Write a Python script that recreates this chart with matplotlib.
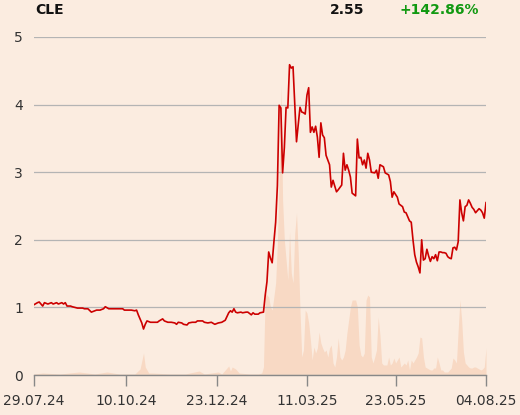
import matplotlib
matplotlib.use("Agg")
import matplotlib.pyplot as plt

# ---- data (trading-day index) ----
price_day = [0, 2, 3, 5, 6, 8, 10, 11, 13, 14, 16, 17, 18, 19, 21, 22, 25, 26, 28, 29, 31, 33, 35, 36, 38, 40, 41, 43, 45, 47, 48, 51, 52, 54, 56, 58, 59, 60, 62, 63, 64, 65, 67, 68, 71, 72, 74, 75, 77, 79, 81, 82, 83, 85, 86, 88, 89, 91, 93, 94, 97, 98, 100, 102, 104, 106, 108, 110, 112, 113, 114, 115, 116, 117, 119, 120, 122, 123, 125, 126, 127, 129, 130, 132, 133, 134, 135, 136, 137, 138, 139, 140, 141, 142, 143, 144, 145, 146, 147, 148, 149, 151, 152, 153, 154, 155, 156, 157, 158, 159, 160, 161, 162, 163, 164, 165, 166, 167, 168, 170, 171, 172, 174, 175, 177, 178, 179, 180, 181, 182, 183, 185, 186, 187, 188, 189, 190, 191, 192, 193, 194, 196, 197, 198, 199, 201, 202, 204, 205, 206, 207, 209, 210, 212, 213, 214, 215, 216, 217, 218, 219, 220, 221, 222, 223, 224, 225, 226, 227, 228, 229, 230, 231, 232, 233, 234, 235, 236, 237, 238, 239, 240, 241, 242, 243, 244, 245, 246, 247, 248, 249, 250, 251, 252, 253, 254, 255, 256, 257, 258, 259, 260]
price = [1.04, 1.07, 1.08, 1.02, 1.07, 1.05, 1.07, 1.05, 1.07, 1.05, 1.07, 1.05, 1.07, 1.02, 1.02, 1.01, 0.99, 0.99, 0.99, 0.98, 0.98, 0.93, 0.95, 0.96, 0.96, 0.98, 1.01, 0.98, 0.98, 0.98, 0.98, 0.98, 0.96, 0.96, 0.96, 0.95, 0.96, 0.89, 0.77, 0.68, 0.75, 0.80, 0.78, 0.78, 0.78, 0.80, 0.83, 0.80, 0.78, 0.78, 0.77, 0.75, 0.78, 0.77, 0.75, 0.74, 0.77, 0.78, 0.78, 0.80, 0.80, 0.78, 0.77, 0.78, 0.75, 0.77, 0.78, 0.81, 0.92, 0.95, 0.93, 0.98, 0.93, 0.92, 0.93, 0.92, 0.93, 0.93, 0.89, 0.92, 0.90, 0.90, 0.92, 0.93, 1.18, 1.38, 1.82, 1.73, 1.66, 1.97, 2.26, 2.80, 3.99, 3.95, 2.99, 3.36, 3.96, 3.95, 4.59, 4.54, 4.56, 3.45, 3.70, 3.96, 3.89, 3.88, 3.86, 4.14, 4.25, 3.59, 3.67, 3.59, 3.68, 3.52, 3.22, 3.73, 3.55, 3.51, 3.25, 3.11, 2.78, 2.88, 2.71, 2.74, 2.81, 3.28, 3.03, 3.11, 3.03, 2.93, 2.69, 2.65, 3.49, 3.21, 3.22, 3.11, 3.18, 3.06, 3.28, 3.18, 3.00, 2.99, 3.03, 2.91, 3.11, 3.08, 2.99, 2.96, 2.86, 2.63, 2.71, 2.63, 2.53, 2.49, 2.41, 2.40, 2.34, 2.28, 2.26, 2.00, 1.78, 1.67, 1.60, 1.51, 2.00, 1.70, 1.72, 1.86, 1.76, 1.68, 1.75, 1.72, 1.78, 1.69, 1.82, 1.82, 1.81, 1.81, 1.80, 1.75, 1.73, 1.72, 1.88, 1.89, 1.85, 1.97, 2.59, 2.40, 2.28, 2.49, 2.51, 2.59, 2.54, 2.48, 2.45, 2.40, 2.43, 2.46, 2.44, 2.40, 2.32, 2.55]

vol_day = [0, 5, 15, 26, 35, 42, 49, 58, 61, 63, 64, 66, 68, 78, 87, 95, 98, 106, 108, 110, 112, 113, 114, 116, 118, 124, 129, 131, 132, 133, 135, 136, 137, 139, 140, 141, 142, 143, 144, 145, 146, 147, 148, 149, 150, 151, 152, 153, 154, 155, 156, 157, 158, 159, 160, 161, 162, 163, 164, 165, 166, 167, 168, 169, 170, 171, 172, 173, 174, 175, 176, 177, 178, 179, 180, 181, 182, 183, 184, 185, 186, 187, 188, 189, 190, 191, 192, 193, 194, 195, 196, 197, 198, 199, 200, 201, 202, 203, 204, 205, 206, 207, 208, 209, 210, 211, 212, 213, 214, 215, 216, 217, 218, 219, 220, 221, 222, 223, 224, 225, 226, 227, 228, 229, 230, 231, 232, 233, 234, 235, 236, 237, 238, 239, 240, 241, 242, 243, 244, 245, 246, 247, 248, 249, 250, 251, 252, 253, 254, 255, 256, 257, 258, 259, 260]
volume = [1, 2, 1, 3, 1, 3, 1, 1, 6, 22, 8, 2, 2, 1, 1, 4, 1, 3, 1, 5, 9, 4, 8, 6, 2, 1, 1, 2, 8, 82, 78, 68, 65, 92, 132, 200, 290, 175, 135, 115, 95, 143, 102, 92, 142, 162, 122, 65, 18, 25, 65, 62, 52, 35, 15, 28, 22, 27, 43, 32, 27, 23, 25, 18, 27, 30, 12, 8, 18, 37, 18, 15, 18, 25, 42, 55, 68, 75, 75, 75, 68, 30, 20, 18, 22, 75, 80, 78, 18, 12, 18, 25, 58, 40, 12, 10, 10, 10, 18, 10, 12, 17, 12, 15, 18, 8, 10, 12, 10, 15, 5, 15, 12, 15, 18, 22, 38, 37, 18, 8, 7, 6, 5, 5, 7, 7, 18, 12, 5, 5, 3, 3, 3, 5, 7, 17, 15, 12, 45, 75, 55, 23, 12, 10, 8, 7, 7, 8, 8, 7, 6, 5, 6, 8, 27]

tick_days = [0, 53, 105, 157, 208, 260]
tick_labels = ["29.07.24", "10.10.24", "23.12.24", "11.03.25", "23.05.25", "04.08.25"]
y_ticks = [0, 1, 2, 3, 4, 5]

ticker = "CLE"
last_price = "2.55"
change = "+142.86%"

# ---- style ----
BG = "#fbece0"
VOL = "#f8d9c4"
RED = "#cc0000"
GRID = "#b4b4b4"
TXT = "#333333"

fig = plt.figure(figsize=(5.2, 4.15), dpi=100, facecolor=BG)
W, H = 520, 415
x0, x1, ytop, ybot = 34, 486, 37, 375
ax_vol = fig.add_axes([x0 / W, (H - ybot) / H, (x1 - x0) / W, (ybot - ytop) / H])
ax = ax_vol.figure.add_axes(ax_vol.get_position(), sharex=ax_vol)
ax_vol.set_facecolor(BG)
ax.patch.set_visible(False)

ax_vol.fill_between(vol_day, 0, volume, color=VOL, lw=0)
ax_vol.set_ylim(0, 338)
ax_vol.set_yticks([])
for s in ax_vol.spines.values():
    s.set_visible(False)

ax.plot(price_day, price, color=RED, lw=1.2, zorder=3)
ax.set_xlim(0, 260)
ax.set_ylim(0, 5)
ax.set_yticks(y_ticks)
ax.set_yticklabels([str(v) for v in y_ticks])
ax.yaxis.grid(True, color=GRID, lw=0.9)
ax.set_axisbelow(True)
ax.set_xticks(tick_days)
ax.set_xticklabels(tick_labels)
for k in ["top", "right", "left"]:
    ax.spines[k].set_visible(False)
ax.spines["bottom"].set_color("#888888")
ax.spines["bottom"].set_linewidth(1.0)
ax.tick_params(axis="y", length=0, pad=8, labelsize=10, labelcolor=TXT)
ax.tick_params(axis="x", length=8, width=1.0, color="#888888", pad=6,
               labelsize=10, labelcolor=TXT)
ax_vol.tick_params(axis="x", bottom=False, labelbottom=False)

fig.text(35 / W, 1 - 10 / H, ticker, fontsize=10, fontweight="bold",
         color="#111111", ha="left", va="center")
fig.text(364 / W, 1 - 10 / H, last_price, fontsize=10, fontweight="bold",
         color="#111111", ha="right", va="center")
fig.text(479 / W, 1 - 10 / H, change, fontsize=10, fontweight="bold",
         color="#119911", ha="right", va="center")

fig.savefig("out.png", dpi=100, facecolor=BG)
